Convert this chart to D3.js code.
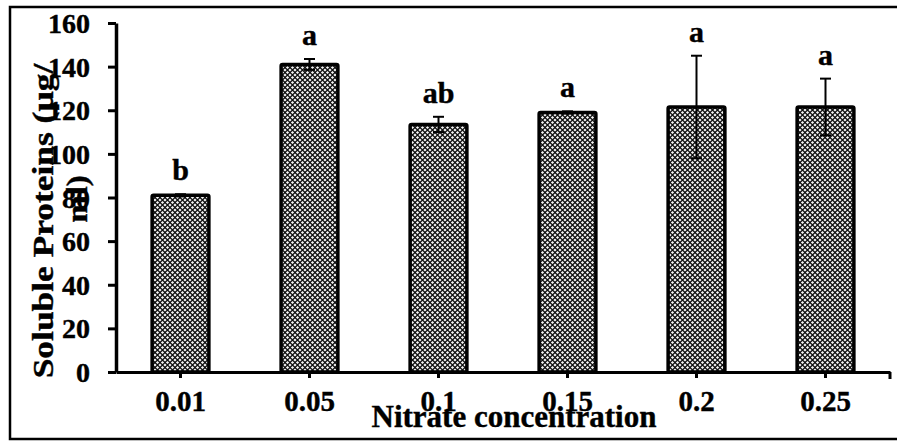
<!DOCTYPE html>
<html>
<head>
<meta charset="utf-8">
<script src="https://cdn.jsdelivr.net/npm/d3@7"></script>
<style>
  html, body { margin: 0; padding: 0; background: #fff; }
  svg { display: block; }
  text { font-family: "Liberation Serif", "Times New Roman", serif; font-weight: bold; fill: #000; stroke: #000; stroke-width: 0.4px; }
</style>
</head>
<body>
<svg id="chart" width="897" height="444"></svg>
<script>
const categories = ["0.01", "0.05", "0.1", "0.15", "0.2", "0.25"];
const means = [81, 141, 113.5, 119, 121.5, 121.5];
const errors = [0.5, 2.5, 3.5, 0.5, 23.5, 13];
const letters = ["b", "a", "ab", "a", "a", "a"];
const yTicks = [0, 20, 40, 60, 80, 100, 120, 140, 160];
const xTitle = "Nitrate concentration";
const yTitleLines = ["Soluble Proteins (µg/", "ml)"];

(function () {
const svg = d3.select("#chart");
const plotL = 116, plotR = 890, plotT = 23, plotB = 372;

// outer frame
svg.append("rect").attr("x", 10).attr("y", 7).attr("width", 900).attr("height", 432)
  .attr("fill", "none").attr("stroke", "#000").attr("stroke-width", 2.5);

// pattern
const defs = svg.append("defs");
const pat = defs.append("pattern").attr("id", "dots").attr("patternUnits", "userSpaceOnUse")
  .attr("width", 5).attr("height", 5);
pat.append("rect").attr("width", 5).attr("height", 5).attr("fill", "#111");
const dm = (cx, cy, r) => `M${cx},${cy - r} L${cx + r},${cy} L${cx},${cy + r} L${cx - r},${cy} Z`;
pat.append("path").attr("d", [dm(2.5, 2.5, 1.6), dm(0, 0, 1.6), dm(5, 0, 1.6), dm(0, 5, 1.6), dm(5, 5, 1.6)].join(" "))
  .attr("fill", "#f6f6f6");

const x = d3.scaleBand().domain(categories).range([plotL, plotR]).paddingInner(0.56).paddingOuter(0.28);
const y = d3.scaleLinear().domain([0, 160]).range([plotB, plotT]);

// bars
svg.append("g").selectAll("rect").data(categories).join("rect")
  .attr("x", d => x(d))
  .attr("y", (d, i) => y(means[i]))
  .attr("width", x.bandwidth())
  .attr("height", (d, i) => y(0) - y(means[i]))
  .attr("rx", 1.5)
  .attr("fill", "url(#dots)")
  .attr("stroke", "#000").attr("stroke-width", 3.5);

// error bars
const eb = svg.append("g").attr("stroke", "#000").attr("stroke-width", 2);
categories.forEach((c, i) => {
  const cx = x(c) + x.bandwidth() / 2;
  const y1 = y(means[i] + errors[i]), y2 = y(means[i] - errors[i]);
  eb.append("line").attr("x1", cx).attr("x2", cx).attr("y1", y1).attr("y2", y2);
  eb.append("line").attr("x1", cx - 5.5).attr("x2", cx + 5.5).attr("y1", y1).attr("y2", y1);
  eb.append("line").attr("x1", cx - 5.5).attr("x2", cx + 5.5).attr("y1", y2).attr("y2", y2);
});

// letters
svg.append("g").selectAll("text").data(categories).join("text")
  .attr("x", d => x(d) + x.bandwidth() / 2)
  .attr("y", (d, i) => y(means[i] + errors[i]) - 14)
  .attr("text-anchor", "middle")
  .style("font-size", "30px")
  .text((d, i) => letters[i]);

// y axis
const yAxis = d3.axisLeft(y).tickValues(yTicks).tickSize(8).tickSizeOuter(0).tickPadding(18);
const gy = svg.append("g").attr("transform", `translate(${plotL},0)`).call(yAxis);
gy.select(".domain").attr("stroke-width", 3.5);
gy.selectAll(".tick line").attr("stroke-width", 3);
gy.selectAll(".tick text").style("font-size", "28px").style("font-family", "Liberation Serif, serif").style("font-weight", "bold").attr("dy", "0.34em");

// x axis
const xAxis = d3.axisBottom(x).tickSize(6).tickSizeOuter(0).tickPadding(12);
const gx = svg.append("g").attr("transform", `translate(0,${plotB})`).call(xAxis);
gx.select(".domain").attr("stroke-width", 3);
gx.selectAll(".tick line").attr("stroke-width", 3);
gx.selectAll(".tick text").style("font-size", "29px").style("font-family", "Liberation Serif, serif").style("font-weight", "bold").attr("dy", "0.71em");
gx.append("line").attr("x1", plotR).attr("x2", plotR).attr("y1", 0).attr("y2", 7)
  .attr("stroke", "#000").attr("stroke-width", 3);

// x title
svg.append("text").attr("x", 514).attr("y", 427).attr("text-anchor", "middle")
  .style("font-size", "31px").text(xTitle);

// y title (two lines), stretched along the text direction like the reference
svg.append("text").attr("transform", "translate(53,221) rotate(-90) scale(1.18,1)").attr("text-anchor", "middle")
  .style("font-size", "30px").text(yTitleLines[0]);
svg.append("text").attr("transform", "translate(87,199) rotate(-90) scale(1.1,1)").attr("text-anchor", "middle")
  .style("font-size", "30px").text(yTitleLines[1]);
})();
</script>
</body>
</html>
